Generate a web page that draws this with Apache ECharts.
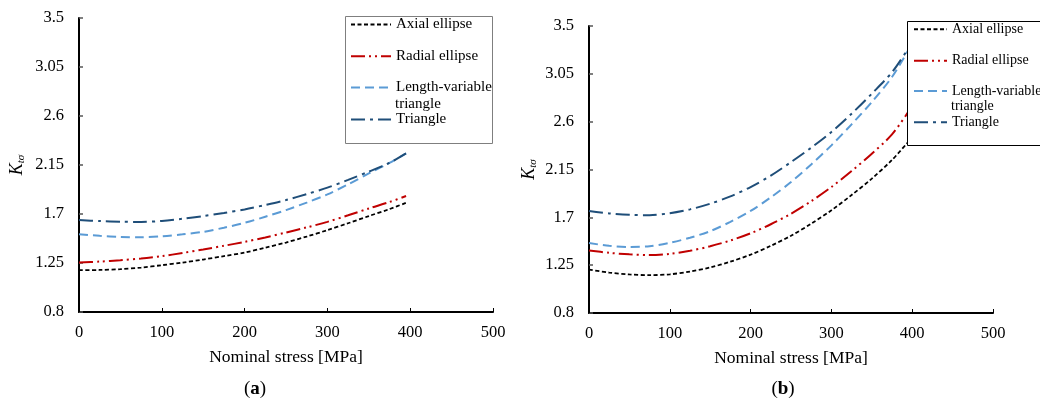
<!DOCTYPE html>
<html>
<head>
<meta charset="utf-8">
<script src="https://cdn.jsdelivr.net/npm/echarts@6/dist/echarts.min.js"></script>
<style>html,body{margin:0;padding:0;background:#fff}#c{width:1040px;height:400px}</style>
</head>
<body>
<div id="c"></div>
<script>
// ---- data ----
var seriesNames = ['Axial ellipse', 'Radial ellipse', 'Length-variable triangle', 'Triangle'];
var stressX = [0, 25, 50, 75, 100, 125, 150, 175, 200, 225, 250, 275, 300, 325, 350, 375, 395];
// panel (a)
var a_axial     = [1.184, 1.186, 1.193, 1.208, 1.230, 1.254, 1.282, 1.313, 1.346, 1.390, 1.438, 1.493, 1.552, 1.615, 1.681, 1.745, 1.803];
var a_radial    = [1.254, 1.263, 1.276, 1.291, 1.313, 1.342, 1.374, 1.408, 1.444, 1.485, 1.530, 1.577, 1.628, 1.688, 1.751, 1.810, 1.865];
var a_lengthVar = [1.515, 1.500, 1.490, 1.486, 1.495, 1.513, 1.536, 1.574, 1.619, 1.675, 1.736, 1.805, 1.880, 1.972, 2.073, 2.170, 2.257];
var a_triangle  = [1.644, 1.635, 1.629, 1.627, 1.636, 1.656, 1.681, 1.710, 1.742, 1.783, 1.828, 1.883, 1.942, 2.013, 2.089, 2.170, 2.257];
// panel (b)
var b_axial     = [1.208, 1.180, 1.163, 1.156, 1.164, 1.190, 1.228, 1.283, 1.349, 1.432, 1.527, 1.640, 1.766, 1.910, 2.064, 2.240, 2.409];
var b_radial    = [1.389, 1.366, 1.352, 1.345, 1.356, 1.385, 1.428, 1.482, 1.550, 1.635, 1.734, 1.852, 1.985, 2.135, 2.299, 2.480, 2.690];
var b_lengthVar = [1.458, 1.432, 1.421, 1.428, 1.460, 1.508, 1.570, 1.658, 1.760, 1.888, 2.032, 2.198, 2.377, 2.575, 2.785, 3.020, 3.271];
var b_triangle  = [1.760, 1.737, 1.724, 1.720, 1.739, 1.775, 1.828, 1.897, 1.985, 2.092, 2.220, 2.355, 2.503, 2.675, 2.863, 3.065, 3.287];
var xTicks = [0, 100, 200, 300, 400, 500];
var yTicks = [0.8, 1.25, 1.7, 2.15, 2.6, 3.05, 3.5];
var panelLabels = ['a', 'b'];

// ---- styles ----
var FONT = '"Liberation Serif", "Times New Roman", serif';
var styles = [
  {color: '#000000', type: [4, 2.5], width: 1.8},
  {color: '#C00000', type: [14, 4, 2, 4, 2, 4], width: 2},
  {color: '#5B9BD5', type: [9, 5], width: 2},
  {color: '#1F4E79', type: [14, 5, 3, 5], width: 2}
];

function pairs(ys) { return stressX.map(function (x, i) { return [x, ys[i]]; }); }

var panelData = [[a_axial, a_radial, a_lengthVar, a_triangle], [b_axial, b_radial, b_lengthVar, b_triangle]];

var grids = [
  {left: 79, top: 18, width: 414, height: 294},
  {left: 589, top: 26, width: 404, height: 287}
];

var xAxes = [], yAxes = [], series = [];
[0, 1].forEach(function (p) {
  xAxes.push({
    type: 'value', gridIndex: p, min: xTicks[0], max: xTicks[xTicks.length - 1], interval: xTicks[1] - xTicks[0],
    name: 'Nominal stress [MPa]', nameLocation: 'middle', nameGap: 36,
    nameTextStyle: {fontFamily: FONT, fontSize: 17.5, color: '#000'},
    axisLine: {onZero: false, lineStyle: {color: '#000', width: 2}},
    axisTick: {inside: true, length: 4, lineStyle: {color: '#000', width: 1}},
    axisLabel: {fontFamily: FONT, fontSize: 16.5, color: '#000', margin: 12},
    splitLine: {show: false}
  });
  yAxes.push({
    type: 'value', gridIndex: p, min: yTicks[0], max: yTicks[yTicks.length - 1], interval: 0.45,
    name: '{k|K}{s|tσ}', nameLocation: 'middle', nameRotate: 90, nameGap: p === 0 ? 52 : 50,
    nameTextStyle: {
      color: '#000',
      rich: {
        k: {fontFamily: FONT, fontSize: 18, fontStyle: 'italic', color: '#000'},
        s: {fontFamily: FONT, fontSize: 11, fontStyle: 'italic', color: '#000', verticalAlign: 'bottom', padding: [8, 0, 0, 0]}
      }
    },
    axisLine: {show: true, lineStyle: {color: '#000', width: 2}},
    axisTick: {show: true, inside: true, length: 4, lineStyle: {color: '#555', width: 1.5}},
    axisLabel: {fontFamily: FONT, fontSize: 16.5, color: '#000', margin: 15,
      formatter: function (v) { return String(+v.toFixed(2)); }},
    splitLine: {show: false}
  });
  seriesNames.forEach(function (n, i) {
    series.push({
      name: n, type: 'line', xAxisIndex: p, yAxisIndex: p,
      data: pairs(panelData[p][i]), showSymbol: false, symbol: 'none', smooth: 0.3,
      lineStyle: {color: styles[i].color, type: styles[i].type, width: styles[i].width, cap: 'butt'},
      itemStyle: {color: styles[i].color}, z: 2
    });
  });
});

// legends: one component per entry so each row sits where the reference has it
var legendCfg = [
  {x: 350, ys: [24, 55.7, 87, 119], iw: 40, fs: 15, second: 105},
  {x: 913, ys: [29.3, 60.7, 91, 122.3], iw: 33, fs: 14, second: 107.7}
];
var legends = [];
var graphics = [];
legendCfg.forEach(function (c, p) {
  seriesNames.forEach(function (n, i) {
    legends.push({
      data: [n], orient: 'vertical', left: c.x, top: c.ys[i] - 7, padding: 0,
      itemWidth: c.iw, itemHeight: 14, itemGap: 0, selectedMode: false, z: 20,
      itemStyle: {opacity: 0},
      formatter: function (name) { return name === 'Length-variable triangle' ? 'Length-variable' : name; },
      textStyle: {fontFamily: FONT, fontSize: c.fs, color: '#000', lineHeight: 14}
    });
  });
  graphics.push({
    type: 'text', z: 21, left: c.x + c.iw + 5, top: c.second - 8,
    style: {text: 'triangle', font: c.fs + 'px ' + FONT, fill: '#000'}
  });
});
graphics.push({type: 'rect', z: 10, shape: {x: 345.5, y: 16.5, width: 147, height: 127},
  style: {fill: '#fff', stroke: '#7f7f7f', lineWidth: 1}});
graphics.push({type: 'rect', z: 10, shape: {x: 907.5, y: 21.5, width: 140, height: 124},
  style: {fill: '#fff', stroke: '#000', lineWidth: 1}});

var titles = panelLabels.map(function (l, p) {
  return {
    text: '({b|' + l + '})', left: p === 0 ? 250 : 778, top: 375, textAlign: 'center',
    textStyle: {fontFamily: FONT, fontSize: 19, fontWeight: 'normal', color: '#000',
      rich: {b: {fontFamily: FONT, fontSize: 19, fontWeight: 'bold', color: '#000'}}}
  };
});

var chart = echarts.init(document.getElementById('c'), null, {renderer: 'canvas'});
chart.setOption({
  animation: false,
  backgroundColor: '#fff',
  title: titles,
  grid: grids,
  xAxis: xAxes,
  yAxis: yAxes,
  legend: legends,
  graphic: graphics,
  series: series
});
</script>
</body>
</html>
